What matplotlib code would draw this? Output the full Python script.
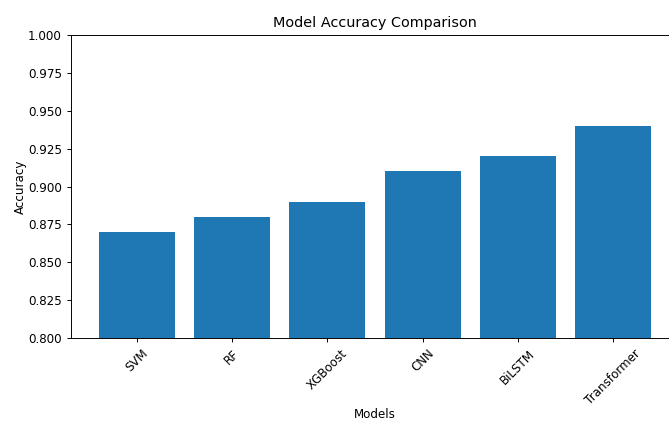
import matplotlib
matplotlib.use("Agg")
import matplotlib.pyplot as plt

models = ["SVM", "RF", "XGBoost", "CNN", "BiLSTM", "Transformer"]
accuracy = [0.87, 0.88, 0.89, 0.91, 0.92, 0.94]

s = 0.86
plt.rcParams['font.size'] = 10 * s
fig = plt.figure(figsize=(6.69, 4.21), dpi=100)
ax = fig.add_axes([71/669, (421-338)/421, (679-71)/669, (338-35)/421])
ax.bar(models, accuracy, color="#1f77b4")
ax.set_ylim(0.8, 1.0)
ax.set_title("Model Accuracy Comparison", fontsize=12*s)
ax.set_xlabel("Models", fontsize=10*s, labelpad=1)
ax.set_ylabel("Accuracy", fontsize=10*s, labelpad=1)
ax.tick_params(labelsize=10*s, length=3.5*s, width=0.8*s)
for sp in ax.spines.values():
    sp.set_linewidth(0.8*s)
plt.setp(ax.get_xticklabels(), rotation=45)
ax.set_yticks([0.8, 0.825, 0.85, 0.875, 0.9, 0.925, 0.95, 0.975, 1.0])
fig.savefig("out.png", dpi=100)
